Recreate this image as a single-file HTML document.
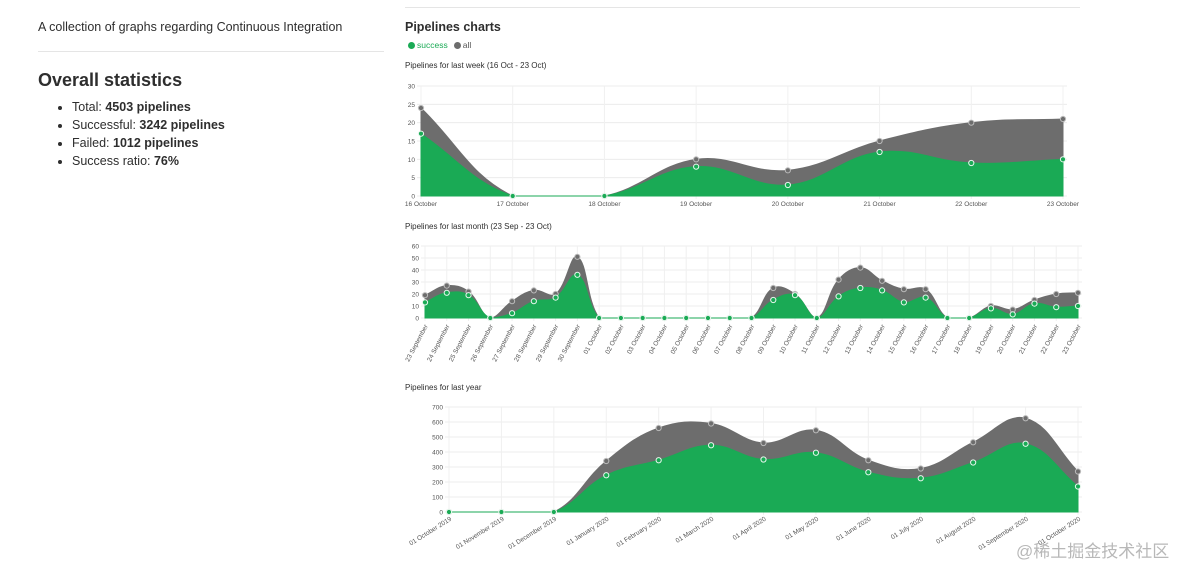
<!DOCTYPE html>
<html><head><meta charset="utf-8">
<style>
body{margin:0;width:1195px;height:576px;background:#fff;font-family:"Liberation Sans","Noto Sans CJK SC",sans-serif;color:#2e2e2e;position:relative;overflow:hidden}
.abs{position:absolute}
ul{margin:0;padding-left:34px}
li{font-size:12.5px;line-height:18px}
</style></head><body>
<div class="abs" style="left:38px;top:20px;font-size:12.5px">A collection of graphs regarding Continuous Integration</div>
<div class="abs" style="left:38px;top:51px;width:346px;height:1px;background:#e5e5e5"></div>
<div class="abs" style="left:38px;top:70px;font-size:18px;font-weight:bold">Overall statistics</div>
<div class="abs" style="left:38px;top:98px">
<ul>
<li>Total: <b>4503 pipelines</b></li>
<li>Successful: <b>3242 pipelines</b></li>
<li>Failed: <b>1012 pipelines</b></li>
<li>Success ratio: <b>76%</b></li>
</ul></div>
<div class="abs" style="left:405px;top:7px;width:675px;height:1px;background:#e5e5e5"></div>
<div class="abs" style="left:405px;top:20px;font-size:12.5px;font-weight:bold">Pipelines charts</div>
<div class="abs" style="left:408px;top:40px;font-size:8.5px;display:flex;align-items:center;gap:3px">
<span style="display:flex;align-items:center;gap:2px;color:#1aaa55"><span style="width:7px;height:7px;border-radius:50%;background:#1aaa55;display:inline-block"></span>success</span>
<span style="display:flex;align-items:center;gap:2px;color:#555;margin-left:3px"><span style="width:7px;height:7px;border-radius:50%;background:#6d6d6d;display:inline-block"></span>all</span>
</div>
<div class="abs" style="left:405px;top:61px;font-size:8px">Pipelines for last week (16 Oct - 23 Oct)</div>
<div class="abs" style="left:405px;top:222px;font-size:8px">Pipelines for last month (23 Sep - 23 Oct)</div>
<div class="abs" style="left:405px;top:383px;font-size:8px">Pipelines for last year</div>
<svg id="charts" class="abs" style="left:0;top:0" width="1195" height="576"></svg>
<div class="abs" style="left:1016px;top:537px;font-size:17px;color:#b8b8b8">@稀土掘金技术社区</div>
<script>
const weekLabels=["16 October","17 October","18 October","19 October","20 October","21 October","22 October","23 October"];
const weekAll=[24,0,0,10,7,15,20,21];
const weekSuccess=[17,0,0,8,3,12,9,10];
const weekTicks=[0,5,10,15,20,25,30];
const monthLabels=["23 September","24 September","25 September","26 September","27 September","28 September","29 September","30 September","01 October","02 October","03 October","04 October","05 October","06 October","07 October","08 October","09 October","10 October","11 October","12 October","13 October","14 October","15 October","16 October","17 October","18 October","19 October","20 October","21 October","22 October","23 October"];
const monthAll=[19,27,22,0,14,23,20,51,0,0,0,0,0,0,0,0,25,20,0,32,42,31,24,24,0,0,10,7,15,20,21];
const monthSuccess=[13,21,19,0,4,14,17,36,0,0,0,0,0,0,0,0,15,19,0,18,25,23,13,17,0,0,8,3,12,9,10];
const monthTicks=[0,10,20,30,40,50,60];
const yearLabels=["01 October 2019","01 November 2019","01 December 2019","01 January 2020","01 February 2020","01 March 2020","01 April 2020","01 May 2020","01 June 2020","01 July 2020","01 August 2020","01 September 2020","01 October 2020"];
const yearAll=[0,0,0,340,560,590,460,545,345,290,465,625,270];
const yearSuccess=[0,0,0,245,345,445,350,395,265,225,330,455,170];
const yearTicks=[0,100,200,300,400,500,600,700];

const NS="http://www.w3.org/2000/svg";
const svg=document.getElementById('charts');
function mk(tag,attrs,parent){const e=document.createElementNS(NS,tag);for(const k in attrs)e.setAttribute(k,attrs[k]);(parent||svg).appendChild(e);return e;}
function spline(pts,t,yMax,yMin){
  const cps=[];
  const cl=y=>Math.min(yMax,Math.max(yMin,y));
  for(let i=0;i<pts.length;i++){
    const p=pts[Math.max(0,i-1)],c=pts[i],n=pts[Math.min(pts.length-1,i+1)];
    const d01=Math.hypot(c[0]-p[0],c[1]-p[1]),d12=Math.hypot(n[0]-c[0],n[1]-c[1]);
    let fa=d01/(d01+d12)||0,fb=d12/(d01+d12)||0;fa*=t;fb*=t;
    cps.push({p:[c[0]-fa*(n[0]-p[0]),cl(c[1]-fa*(n[1]-p[1]))],n:[c[0]+fb*(n[0]-p[0]),cl(c[1]+fb*(n[1]-p[1]))]});
  }
  let d="M"+pts[0][0]+","+pts[0][1];
  for(let i=1;i<pts.length;i++){const a=cps[i-1].n,b=cps[i].p;d+=` C${a[0]},${a[1]} ${b[0]},${b[1]} ${pts[i][0]},${pts[i][1]}`;}
  return d;
}
function chart(name,cfg,labels,all,succ,ticks){
  const g=mk('g',{});
  
  
  const max=ticks[ticks.length-1];
  const xs=i=>cfg.x0+(cfg.x1-cfg.x0)*i/(labels.length-1);
  const ys=v=>cfg.y0-(cfg.y0-cfg.yTop)*v/max;
  ticks.forEach(t=>{
    const l=mk('line',{x1:cfg.x0-4,x2:cfg.x1+4,y1:ys(t),y2:ys(t),stroke:'#ececec','stroke-width':1},g);
    
    
    const tx=mk('text',{x:cfg.x0-6,y:ys(t)+2.5,'font-size':6.5,'text-anchor':'end',fill:'#555'},g);
    tx.textContent=t;
    
    
  });
  labels.forEach((lb,i)=>{
    const l=mk('line',{x1:xs(i),x2:xs(i),y1:cfg.yTop,y2:cfg.y0+3,stroke:'#f0f0f0','stroke-width':1},g);
    
    
    let tx;
    if(cfg.rot){tx=mk('text',{x:xs(i)+3,y:cfg.y0+8,'font-size':6.5,'text-anchor':'end',fill:'#555',transform:`rotate(${cfg.rot} ${xs(i)+3} ${cfg.y0+8})`},g);}
    else{tx=mk('text',{x:xs(i),y:cfg.y0+10,'font-size':6.5,'text-anchor':'middle',fill:'#555'},g);}
    tx.textContent=lb;
    
    
  });
  [[all,'#6d6d6d','all'],[succ,'#1aaa55','success']].forEach(([arr,col,nm])=>{
    const pts=arr.map((v,i)=>[xs(i),ys(v)]);
    const d=spline(pts,0.4,cfg.y0,cfg.yTop);
    const a=mk('path',{d:d+` L${xs(arr.length-1)},${cfg.y0} L${xs(0)},${cfg.y0} Z`,fill:col,stroke:col,'stroke-width':1},g);
    
    
  });
  [[all,'#6d6d6d','#bbb','all'],[succ,'#1aaa55','#e8f7ee','success']].forEach(([arr,col,st,nm])=>{
    arr.forEach((v,i)=>{
      const c=mk('circle',{cx:xs(i),cy:ys(v),r:2.6,fill:col,stroke:st,'stroke-width':1},g);
      
      
    });
  });
}
chart('week-chart',{x0:421,x1:1063,y0:196,yTop:86,rot:0},weekLabels,weekAll,weekSuccess,weekTicks);
chart('month-chart',{x0:425,x1:1078,y0:318,yTop:246,rot:-62},monthLabels,monthAll,monthSuccess,monthTicks);
chart('year-chart',{x0:449,x1:1078,y0:512,yTop:407,rot:-32},yearLabels,yearAll,yearSuccess,yearTicks);
</script>
</body></html>
